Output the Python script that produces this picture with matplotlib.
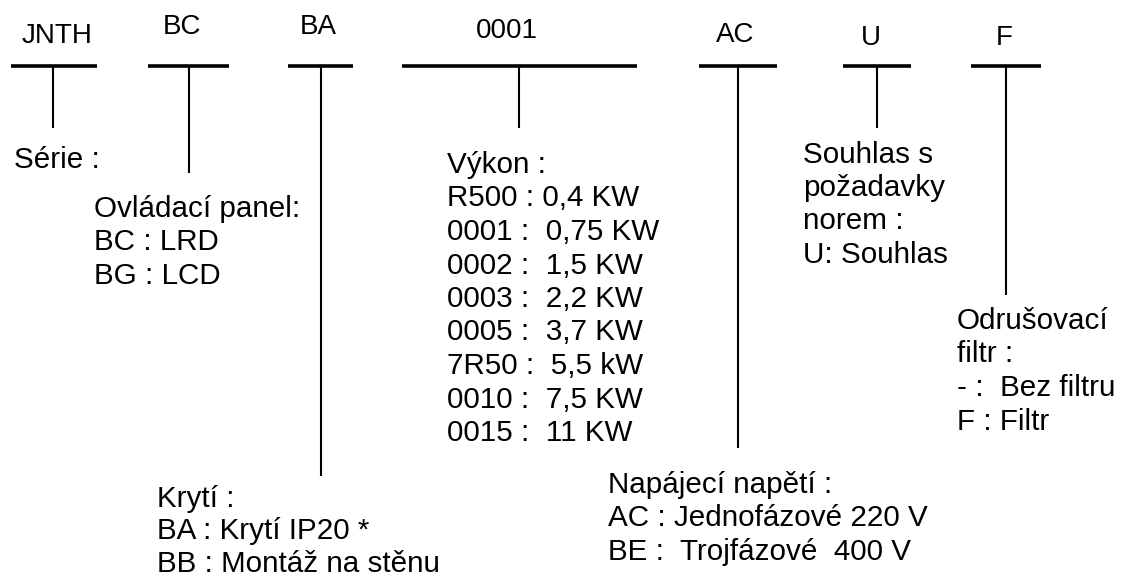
import matplotlib.pyplot as plt

plt.rcParams['font.family'] = ['Liberation Sans', 'DejaVu Sans']

# kódové pozice (nahoře)
codes = ['JNTH', 'BC', 'BA', '0001', 'AC', 'U', 'F']
code_x = [57, 182, 318, 507, 735, 871, 1004]
code_y = [43, 34, 34, 38, 42, 45, 45]

# vodorovné čáry pod kódy a svislé spojnice
bar_left = [11, 148, 288, 402, 699, 843, 971]
bar_right = [97, 229, 353, 637, 777, 911, 1041]
stem_x = [53, 189, 321, 519, 738, 877, 1006]
stem_bottom = [128, 173, 476, 128, 448, 128, 295]
bar_y = 66

# popisy
serie = ['Série :']
panel = ['Ovládací panel:', 'BC : LRD', 'BG : LCD']
kryti = ['Krytí :', 'BA : Krytí IP20 *', 'BB : Montáž na stěnu']
vykon = ['Výkon :', 'R500 : 0,4 KW', '0001 :  0,75 KW', '0002 :  1,5 KW',
         '0003 :  2,2 KW', '0005 :  3,7 KW', '7R50 :  5,5 kW',
         '0010 :  7,5 KW', '0015 :  11 KW']
napeti = ['Napájecí napětí :', 'AC : Jednofázové 220 V', 'BE :  Trojfázové  400 V']
souhlas = ['Souhlas s', 'požadavky', 'norem :', 'U: Souhlas']
filtr = ['Odrušovací', 'filtr :', '- :  Bez filtru', 'F : Filtr']

blocks = [
    (serie, 14, 168, 33.5),
    (panel, 94, 217, 33.5),
    (kryti, 157, 507, 32.3),
    (vykon, 447, 173, 33.5),
    (napeti, 608, 493, 33.5),
    (souhlas, 803, 163, 33.2),
    (filtr, 957, 329, 33.5),
]

fig = plt.figure(figsize=(11.21, 5.77), dpi=100)
ax = fig.add_axes([0, 0, 1, 1])
ax.set_xlim(0, 1121)
ax.set_ylim(577, 0)
ax.axis('off')

for i in range(len(codes)):
    ax.text(code_x[i], code_y[i], codes[i], fontsize=20, ha='center', va='baseline')
    ax.plot([bar_left[i], bar_right[i]], [bar_y, bar_y], color='black', lw=2.6,
            solid_capstyle='butt')
    ax.plot([stem_x[i], stem_x[i]], [bar_y, stem_bottom[i]], color='black', lw=1.5,
            solid_capstyle='butt')

for lines, x0, y0, step in blocks:
    for j, line in enumerate(lines):
        ax.text(x0, y0 + j * step, line, fontsize=21.3, ha='left', va='baseline')

fig.savefig('out.png', dpi=100, facecolor='white')
